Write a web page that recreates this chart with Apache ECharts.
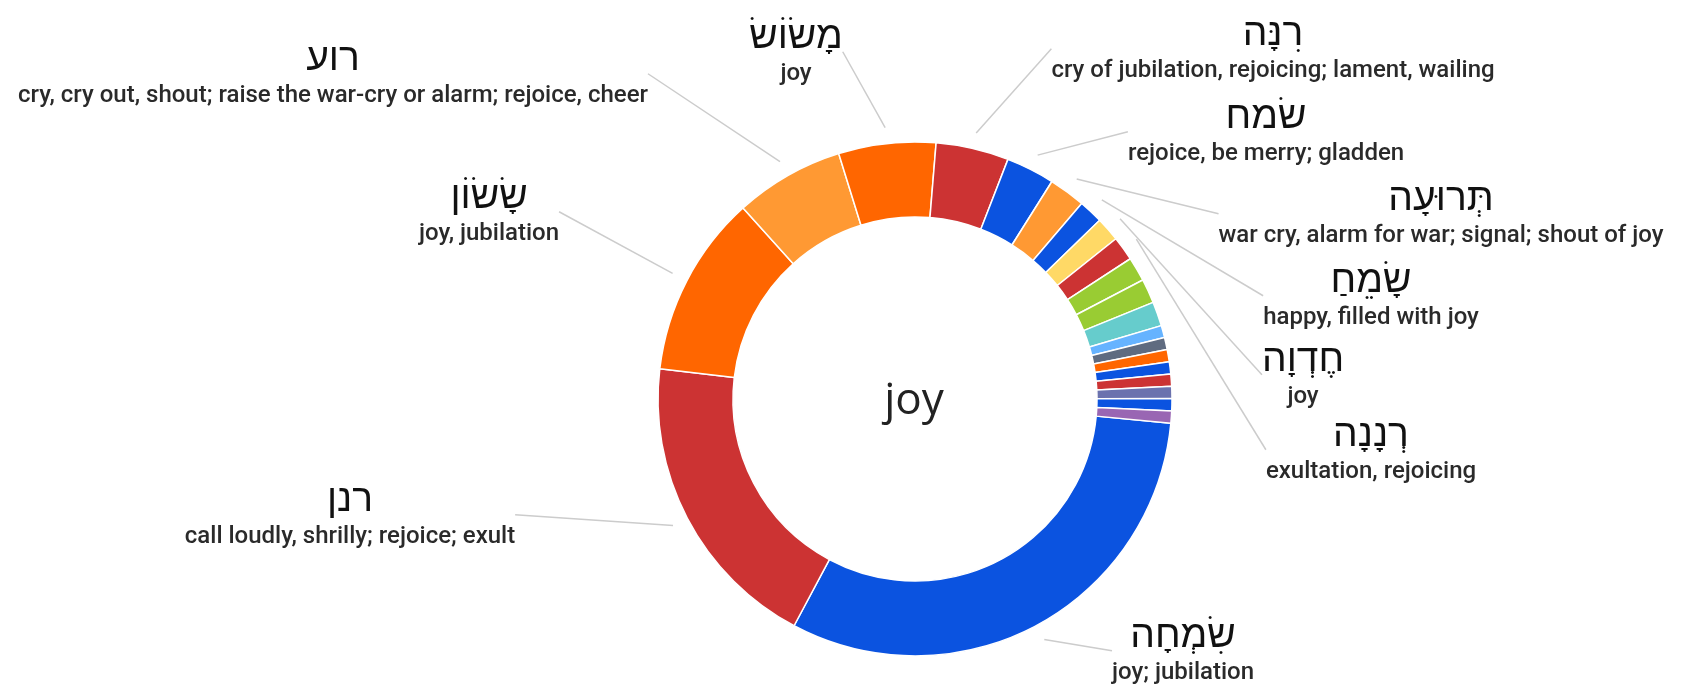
<!DOCTYPE html>
<html>
<head>
<meta charset="utf-8">
<script src="https://cdn.jsdelivr.net/npm/echarts@6/dist/echarts.min.js"></script>
<style>
html, body { margin: 0; padding: 0; background: #fff; }
#chart-wrap { width: 1686px; height: 689px; }
</style>
</head>
<body>
<div id="chart-wrap"></div>
<script>
// hebrew words (sorted by count), only the first 11 get a label
var words = ['שִׂמְחָה', 'רנן', 'שָׂשׂוֹן', 'רוע', 'מָשׂוֹשׂ', 'רִנָּה', 'שׂמח', 'תְּרוּעָה', 'שָׂמֵחַ', 'חֶדְוָה', 'רְנָנָה',
    'other 1', 'other 2', 'other 3', 'other 4', 'other 5', 'other 6', 'other 7', 'other 8', 'other 9', 'other 10', 'other 11'];
var glosses = ['joy; jubilation', 'call loudly, shrilly; rejoice; exult', 'joy, jubilation',
    'cry, cry out, shout; raise the war-cry or alarm; rejoice, cheer', 'joy',
    'cry of jubilation, rejoicing; lament, wailing', 'rejoice, be merry; gladden',
    'war cry, alarm for war; signal; shout of joy', 'happy, filled with joy', 'joy', 'exultation, rejoicing'];
var counts = [41, 25, 15, 9, 8, 6, 4, 3, 2, 2, 2, 2, 2, 2, 1, 1, 1, 1, 1, 1, 1, 1];
var colors = ['#0b53e0', '#cc3333', '#ff6600', '#ff9933', '#ff6600', '#cc3333', '#0b53e0', '#ff9933', '#0b53e0', '#ffd966', '#cc3333',
    '#99cc33', '#99cc33', '#66cccc', '#66b3ff', '#5f6b80', '#ff6600', '#0b53e0', '#cc3333', '#6b72ae', '#0b53e0', '#9966b3'];
var centerText = 'joy';

// where each label block sits (center point)
var labelPos = [[1183, 651], [350, 515], [489, 212], [333, 74], [796, 52], [1273, 49], [1266, 132],
    [1441, 214], [1371, 296], [1303, 375], [1371, 450]];

var pieChart = echarts.init(document.getElementById('chart-wrap'));

var ringData = [];
var labelData = [];
for (var i = 0; i < counts.length; i++) {
    ringData.push({ name: words[i], value: counts[i], itemStyle: { color: colors[i] } });
    var hasLabel = i < glosses.length;
    labelData.push({
        name: words[i],
        value: counts[i],
        label: { show: hasLabel },
        labelLine: { show: hasLabel }
    });
}

var option = {
    animation: false,
    graphic: [{
        type: 'text',
        x: 914,
        y: 401,
        style: {
            text: centerText,
            fill: '#222',
            fontSize: 44,
            fontFamily: 'Open Sans',
            align: 'center',
            verticalAlign: 'middle'
        }
    }],
    series: [{
        // the visible ring
        type: 'pie',
        center: [915, 399],
        radius: [182, 257],
        startAngle: -5.4,
        silent: true,
        label: { show: false },
        labelLine: { show: false },
        itemStyle: { borderColor: '#fff', borderWidth: 1.5 },
        data: ringData
    }, {
        // invisible, slightly bigger ring that only carries the labels
        type: 'pie',
        center: [915, 399],
        radius: [257, 273],
        startAngle: -5.4,
        silent: true,
        avoidLabelOverlap: false,
        itemStyle: { color: 'rgba(0,0,0,0)', borderWidth: 0 },
        label: {
            position: 'outside',
            padding: [4, 16],
            formatter: function (p) {
                return '{he|' + words[p.dataIndex] + '}\n{en|' + glosses[p.dataIndex] + '}';
            },
            rich: {
                he: { fontFamily: 'Liberation Sans', fontSize: 39, lineHeight: 44, color: '#111', align: 'center' },
                en: { fontFamily: 'Roboto', fontSize: 24, fontWeight: 500, lineHeight: 30, color: '#2a2a2a', align: 'center' }
            }
        },
        labelLine: {
            length: 0,
            length2: 0,
            lineStyle: { color: '#cccccc', width: 1.5 }
        },
        labelLayout: function (params) {
            var p = labelPos[params.dataIndex];
            if (!p) return;
            return { x: p[0], y: p[1], align: 'center', verticalAlign: 'middle' };
        },
        data: labelData
    }]
};
pieChart.setOption(option);
</script>
</body>
</html>
